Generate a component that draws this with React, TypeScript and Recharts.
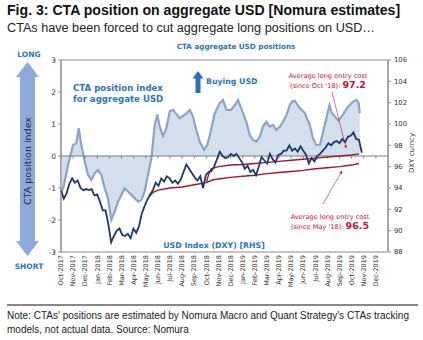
import {
    Area,
    ComposedChart,
    Line,
    ReferenceArea,
    ReferenceLine,
    XAxis,
    YAxis
} from "recharts";

// month index 0 = Oct-2017
const monthLabels = [
    "Oct-2017", "Nov-2017", "Dec-2017", "Jan-2018", "Feb-2018", "Mar-2018", "Apr-2018",
    "May-2018", "Jun-2018", "Jul-2018", "Aug-2018", "Sep-2018", "Oct-2018", "Nov-2018",
    "Dec-2018", "Jan-2019", "Feb-2019", "Mar-2019", "Apr-2019", "May-2019", "Jun-2019",
    "Jul-2019", "Aug-2019", "Sep-2019", "Oct-2019", "Nov-2019", "Dec-2019",
];
const leftTicks = [-3, -2, -1, 0, 1, 2, 3];
const rightTicks = [88, 90, 92, 94, 96, 98, 100, 102, 104, 106];

// CTA position index (LHS)
const ctaMonths = [
    0, 0.25, 0.58, 0.99, 1.26, 1.46, 1.68, 1.96, 2.23, 2.5, 2.78, 3.06, 3.33, 3.61, 3.88,
    4.15, 4.43, 4.71, 4.98, 5.26, 5.53, 5.95, 6.36, 6.63, 6.91, 7.18, 7.46, 7.6, 7.74, 7.95,
    8.15, 8.42, 8.7, 8.98, 9.25, 9.55, 9.8, 10.07, 10.35, 10.63, 10.9, 11.17, 11.45, 11.81,
    12.08, 12.36, 12.69, 13.1, 13.38, 13.65, 14.04, 14.34, 14.62, 14.89, 15.3, 15.58, 15.85,
    16.13, 16.41, 16.68, 16.95, 17.23, 17.51, 17.78, 18.08, 18.33, 18.64, 18.89, 19.08, 19.32,
    19.71, 20.12, 20.54, 20.81, 21.08, 21.39, 21.64, 21.91, 22.17, 22.35, 22.63, 22.9, 23.29,
    23.7, 24.11, 24.4, 24.58, 24.67,
];
const ctaIndex = [
    -1.2, -0.9, -0.28, 0.34, 0.4, 0.87, 0.34, -0.18, -0.59, -0.75, -0.54, -0.44, -0.59, -1.01, -1.32,
    -2.0, -1.74, -1.43, -1.22, -1.01, -1.11, -1.27, -1.43, -1.38, -1.11, -0.59, -0.07, 0.45, 0.97, 1.3,
    0.92, 0.62, 0.87, 1.4, 1.44, 1.3, 1.18, 1.25, 1.33, 1.44, 1.23, 0.81, 0.45, 0.19,
    0.34, 0.76, 1.33, 1.65, 1.75, 1.44, 1.44, 1.59, 1.75, 1.49, 1.07, 0.66, 0.5,
    0.45, 0.6, 0.92, 1.07, 0.92, 0.97, 0.81, 0.92, 1.07, 1.3, 1.59, 1.7, 1.72,
    1.5, 1.35, 0.97, 0.55, 0.34, 0.36, 0.76, 1.18, 1.59, 1.35, 1.23, 1.1, 1.3,
    1.54, 1.7, 1.75, 1.65, 1.33,
];

// USD index (DXY, RHS), weekly from early Oct-2017
const dxyWeekly = [
    93.8, 93.0, 93.5, 94.4, 94.9, 94.5, 94.7, 94.0, 93.8, 93.9, 93.8, 93.9, 93.3, 93.4, 92.7,
    91.9, 91.9, 90.6, 88.9, 89.5, 90.0, 90.2, 89.6, 89.5, 89.7, 89.3, 90.2, 89.8, 90.4, 91.6,
    92.3, 92.9, 93.4, 93.8, 94.5, 94.2, 94.9, 94.6, 95.1, 94.9, 94.5, 94.7, 94.4, 94.8, 95.5,
    96.2, 95.8, 95.4, 95.0, 94.7, 95.1, 94.0, 95.2, 95.5, 95.6, 96.0, 96.7, 97.4, 97.0, 96.8,
    96.9, 97.2, 97.0, 97.2, 96.8, 96.4, 95.8, 96.1, 95.5, 95.7, 95.2, 96.0, 96.9, 96.6, 96.3,
    97.2, 96.7, 96.4, 97.1, 97.2, 97.5, 97.5, 98.0, 97.5, 97.7, 97.4, 97.9, 97.5, 97.1, 96.3,
    96.8, 96.5, 97.0, 97.2, 97.5, 97.8, 98.2, 98.0, 98.3, 98.4, 98.2, 98.6, 98.3, 98.8, 98.9,
    99.2, 98.6, 98.5, 97.3,
];

// average long entry cost, since May '18
const sinceMayMonths = [7.3, 7.6, 8, 9, 10, 11, 12, 12.5, 13, 14, 15, 16, 17, 18, 19, 20, 21, 22, 23, 24, 24.6];
const sinceMayCost = [93.2, 93.6, 93.8, 94.0, 94.1, 94.3, 94.5, 94.75, 94.85, 95.0, 95.1, 95.2, 95.35, 95.45, 95.55, 95.65, 95.8, 95.9, 96.0, 96.15, 96.3];

// average long entry cost, since Oct '18
const sinceOctMonths = [12.0, 12.2, 12.4, 13, 14, 15, 16, 17, 18, 19, 20, 21, 22, 23, 24, 24.6];
const sinceOctCost = [94.5, 95.3, 95.8, 96.0, 96.15, 96.2, 96.3, 96.4, 96.5, 96.6, 96.7, 96.8, 96.9, 97.0, 97.1, 97.2];

const rows: any[] = [
    ...ctaMonths.map((m, i) => ({ m, cta: ctaIndex[i] })),
    ...dxyWeekly.map((v, i) => ({ m: (i * 7) / 30.44, dxy: v })),
    ...sinceMayMonths.map((m, i) => ({ m, may: sinceMayCost[i] })),
    ...sinceOctMonths.map((m, i) => ({ m, oct: sinceOctCost[i] })),
].sort((a, b) => a.m - b.m);

const chartFont = "DejaVu Sans";
const blue = "#2e75b6";
const red = "#c8102e";

const MonthTick = ({ x, y, payload }: any) => (
    <text
        x={x}
        y={y}
        transform={`rotate(-90 ${x} ${y})`}
        textAnchor="end"
        dy="0.35em"
        fontSize={6.5}
        fontFamily={chartFont}
        fill="#333"
    >
        {monthLabels[payload.value]}
    </text>
);

export default function App() {
    return (
        <div style={{ position: "absolute", left: 0, top: 0, width: 423, height: 340, background: "white", fontFamily: "Liberation Sans" }}>
            <ComposedChart
                width={423}
                height={300}
                data={rows}
                margin={{ top: 60, right: 5, bottom: 8, left: 41 }}
                style={{ position: "absolute", left: 0, top: 0 }}
            >
                <XAxis
                    dataKey="m"
                    type="number"
                    domain={[0, 27]}
                    ticks={monthLabels.map((_, i) => i)}
                    axisLine={false}
                    tickLine={false}
                    tickSize={0}
                    tickMargin={3}
                    height={40}
                    tick={<MonthTick />}
                    interval={0}
                />
                <YAxis
                    yAxisId="l"
                    domain={[-3, 3]}
                    ticks={leftTicks}
                    width={20}
                    tickSize={3}
                    tickMargin={2}
                    stroke="#8c8c8c"
                    tick={{ fontSize: 7.5, fill: "#333", fontFamily: chartFont }}
                />
                <YAxis
                    yAxisId="r"
                    orientation="right"
                    domain={[88, 106]}
                    ticks={rightTicks}
                    width={30}
                    tickSize={3}
                    tickMargin={3}
                    stroke="#8c8c8c"
                    tick={{ fontSize: 6.8, fill: "#333", fontFamily: chartFont }}
                />
                <ReferenceArea yAxisId="l" x1={0} x2={27} y1={-3} y2={3} fill="none" stroke="#8c8c8c" strokeWidth={1} />
                <Area
                    yAxisId="l"
                    dataKey="cta"
                    type="linear"
                    baseValue={0}
                    stroke="#8ca4c4"
                    strokeWidth={2.2}
                    fill="#d4dfed"
                    fillOpacity={1}
                    connectNulls
                    dot={false}
                    isAnimationActive={false}
                />
                <ReferenceLine yAxisId="l" y={0} stroke="#7f7f7f" strokeWidth={1} />
                {monthLabels.map((_, i) => (
                    <ReferenceLine
                        key={i}
                        yAxisId="l"
                        segment={[{ x: i, y: 0 }, { x: i, y: -0.08 }]}
                        stroke="#7f7f7f"
                    />
                ))}
                <Line yAxisId="r" dataKey="may" stroke="#a3172a" strokeWidth={1.4} dot={false} connectNulls isAnimationActive={false} />
                <Line yAxisId="r" dataKey="oct" stroke="#a3172a" strokeWidth={1.4} dot={false} connectNulls isAnimationActive={false} />
                <Line yAxisId="r" dataKey="dxy" stroke="#1f3a68" strokeWidth={1.8} dot={false} connectNulls isAnimationActive={false} />
            </ComposedChart>

            <svg width={423} height={340} style={{ position: "absolute", left: 0, top: 0, pointerEvents: "none" }}>
                <defs>
                    <marker id="redHead" viewBox="0 0 10 10" refX="9" refY="5" markerWidth="5" markerHeight="5" orient="auto">
                        <path d="M0,0 L10,5 L0,10 Z" fill={red} />
                    </marker>
                </defs>

                <text x={7} y={15} fontSize={14.1} fontWeight="bold" fill="#111">
                    Fig. 3: CTA position on aggregate USD [Nomura estimates]
                </text>
                <text x={7} y={32} fontSize={12.65} fill="#222">
                    CTAs have been forced to cut aggregate long positions on USD…
                </text>

                <text x={236} y={49} textAnchor="middle" fontSize={7.2} fontWeight="bold" fill={blue} fontFamily={chartFont}>
                    CTA aggregate USD positions
                </text>
                <text x={29} y={57} textAnchor="middle" fontSize={7.5} fontWeight="bold" fill={blue} fontFamily={chartFont}>LONG</text>
                <text x={29} y={269} textAnchor="middle" fontSize={7.5} fontWeight="bold" fill={blue} fontFamily={chartFont}>SHORT</text>

                <path d="M27.5,62 L39,77 L35,77 L35,241 L39,241 L27.5,256 L16,241 L20,241 L20,77 L16,77 Z" fill="#8eaadb" />
                <text x={28} y={161} transform="rotate(-90 28 161)" textAnchor="middle" dy="0.35em" fontSize={9.5} fill="#1a2b4a" fontFamily={chartFont}>
                    CTA position index
                </text>

                <text x={73} y={91} fontSize={8.6} fontWeight="bold" fill={blue} fontFamily={chartFont}>CTA position index</text>
                <text x={73} y={102} fontSize={8.6} fontWeight="bold" fill={blue} fontFamily={chartFont}>for aggregate USD</text>

                <path d="M198,71 L203.5,78.5 L200.5,78.5 L200.5,93 L195.5,93 L195.5,78.5 L192.5,78.5 Z" fill="#2e6fba" />
                <text x={206} y={84} fontSize={7.8} fontWeight="bold" fill={blue} fontFamily={chartFont}>Buying USD</text>

                <text x={214} y={248} textAnchor="middle" fontSize={7.8} fontWeight="bold" fill={blue} fontFamily={chartFont}>USD Index (DXY) [RHS]</text>

                <text x={328} y={78} textAnchor="middle" fontSize={6.6} fill={red} fontFamily={chartFont}>Average long entry cost</text>
                <text x={328} y={88} textAnchor="middle" fontSize={6.6} fill={red} fontFamily={chartFont}>
                    (since Oct '18): <tspan fontSize={9.5} fontWeight="bold">97.2</tspan>
                </text>
                <line x1={332} y1={92} x2={346} y2={148} stroke={red} strokeWidth={0.6} markerEnd="url(#redHead)" />

                <text x={330} y={219} textAnchor="middle" fontSize={6.6} fill={red} fontFamily={chartFont}>Average long entry cost</text>
                <text x={330} y={229} textAnchor="middle" fontSize={6.6} fill={red} fontFamily={chartFont}>
                    (since May '18): <tspan fontSize={9.5} fontWeight="bold">96.5</tspan>
                </text>
                <line x1={323} y1={204} x2={342} y2={171} stroke={red} strokeWidth={0.6} markerEnd="url(#redHead)" />

                <text x={412} y={153} transform="rotate(-90 412 153)" textAnchor="middle" dy="0.35em" fontSize={7} fill="#333" fontFamily={chartFont}>
                    DXY curncy
                </text>

                <line x1={7} y1={305} x2={418} y2={305} stroke="#111" strokeWidth={1} />
                <text x={7} y={319} fontSize={10} fill="#222">
                    Note: CTAs' positions are estimated by Nomura Macro and Quant Strategy's CTAs tracking
                </text>
                <text x={7} y={333} fontSize={10} fill="#222">
                    models, not actual data. Source: Nomura
                </text>
            </svg>
        </div>
    );
}
